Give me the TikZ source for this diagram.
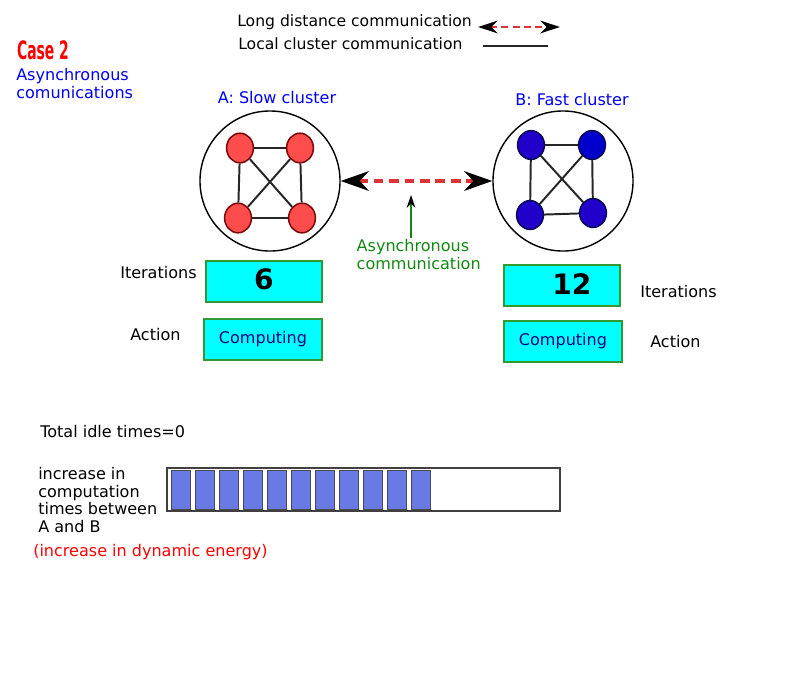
\documentclass[tikz,border=0pt]{standalone}
\usepackage{graphicx}
\usepackage{fontspec}
\setmainfont{DejaVu Sans}
\usepackage{tikz}
\usetikzlibrary{arrows.meta,positioning,shapes.geometric}
\definecolor{slowred}{HTML}{FF4D4D}
\definecolor{slowedge}{HTML}{7A0A0A}
\definecolor{fastblue}{HTML}{2200CC}
\definecolor{fastedge}{HTML}{0A0A55}
\definecolor{linkred}{HTML}{DD3333}
\definecolor{txtblue}{HTML}{0000EE}
\definecolor{txtgreen}{HTML}{118811}
\definecolor{boxcyan}{HTML}{00FFFF}
\definecolor{boxedge}{HTML}{339933}
\definecolor{barblue}{HTML}{6A7AE4}
\definecolor{navy}{HTML}{000080}
\begin{document}
\begin{tikzpicture}[x=0.025cm, y=-0.025cm, font=\fontsize{11.4}{13.5}\selectfont,
  lbl/.style={anchor=west, inner sep=0pt, align=left},
  clus/.style={draw, circle, minimum size=3.5cm, line width=1pt},
  slow/.style={draw=slowedge, fill=slowred, ellipse, minimum width=0.67cm, minimum height=0.74cm, line width=1.1pt, inner sep=0pt},
  fast/.style={draw=fastedge, fill=fastblue, ellipse, minimum width=0.67cm, minimum height=0.72cm, line width=1.1pt, inner sep=0pt},
  local/.style={line width=1.4pt, black!85},
  far/.style={{Stealth[length=20pt, width=14pt, color=black]}-{Stealth[length=20pt, width=14pt, color=black]}, linkred, line width=2.6pt, dash pattern=on 7pt off 4pt},
  farkey/.style={{Stealth[length=14pt, width=9pt, color=black]}-{Stealth[length=14pt, width=9pt, color=black]}, linkred, line width=2pt, dash pattern=on 5pt off 3pt},
  note/.style={-{Stealth[length=9pt, width=6pt, color=black]}, txtgreen, line width=1.1pt},
  info/.style={draw=boxedge, fill=boxcyan, line width=1.2pt, minimum width=2.9cm, minimum height=1.02cm},
  tick/.style={draw=black!70, fill=barblue, line width=0.7pt}]
\useasboundingbox (0,0) rectangle (800,698);

% title and legend
\node[text=red, font=\fontsize{18}{20}\selectfont\bfseries] (case) at (43,50) {\scalebox{0.55}[1]{Case 2}};
\node[lbl, text=txtblue, font=\fontsize{11.4}{12.8}\selectfont] (mode) at (16,84) {Asynchronous\\comunications};
\node[lbl, font=\fontsize{11.1}{13}\selectfont] (keyfar) at (237,22) {Long distance communication};
\node[lbl, font=\fontsize{11.1}{13}\selectfont] (keyloc) at (238,44) {Local cluster communication};
\coordinate (kf1) at (478,27); \coordinate (kf2) at (560,27);
\coordinate (kl1) at (483,46); \coordinate (kl2) at (548,46);
\draw[farkey] (kf1) -- (kf2);
\draw[line width=1.4pt, black!85] (kl1) -- (kl2);

% clusters
\node[clus] (cA) at (270,181) {};
\node[clus] (cB) at (563,181) {};
\node[text=txtblue] (labA) at (277,98) {A: Slow cluster};
\node[text=txtblue] (labB) at (572,100) {B: Fast cluster};
\node[slow] (a1) at (240,148) {};
\node[slow] (a2) at (300,148) {};
\node[slow] (a3) at (238,218) {};
\node[slow] (a4) at (302,218) {};
\node[fast] (b1) at (531,145) {};
\node[fast, fill=blue!80!black] (b2) at (592,145) {};
\node[fast] (b3) at (530,215) {};
\node[fast] (b4) at (593,213) {};
\foreach \u/\v in {a1/a2, a1/a3, a2/a4, a3/a4, a1/a4, a2/a3, b1/b2, b1/b3, b2/b4, b3/b4, b1/b4, b2/b3}
  \draw[local] (\u) -- (\v);
\draw[far] (cA) -- (cB);
\coordinate (tip) at (411,195);
\node[anchor=north west, align=left, text=txtgreen, inner sep=1pt, font=\fontsize{11.4}{12.8}\selectfont] (async) at (355,238) {Asynchronous\\communication};
\draw[note] (async.north -| tip) -- (tip);

% iteration and action boxes
\node[info] (itA) at (264,281.5) {\raisebox{3pt}{\fontsize{20}{22}\selectfont\bfseries 6}};
\node[info, minimum width=2.95cm] (acA) at (263,339.5) {\raisebox{-1pt}{\textcolor{navy}{Computing}}};
\node[info] (itB) at (562,285.5) {\hspace{14pt}\raisebox{2pt}{\fontsize{20}{22}\selectfont\bfseries 12}};
\node[info, minimum width=2.95cm] (acB) at (563,341.5) {\textcolor{navy}{Computing}};
\node[lbl] (tIA) at (120,273) {Iterations};
\node[lbl] (tAA) at (130,335) {Action};
\node[lbl] (tIB) at (640,292) {Iterations};
\node[lbl] (tAB) at (650,342) {Action};

% idle summary and bar
\node[lbl] (idle) at (40,432) {Total idle times=0};
\node[anchor=north west, align=left, inner sep=0pt, font=\fontsize{11.4}{12.5}\selectfont] (incr) at (38,467) {increase in\\computation\\times between\\A and B};
\node[lbl, text=red] (energy) at (33,552) {(increase in dynamic energy)};
\draw[draw=black!75, line width=0.9pt] (167,468) rectangle (560,511);
\foreach \i in {0,...,10}
  \draw[tick] ({171+24*\i},470) rectangle +(19,39);
\end{tikzpicture}
\end{document}
